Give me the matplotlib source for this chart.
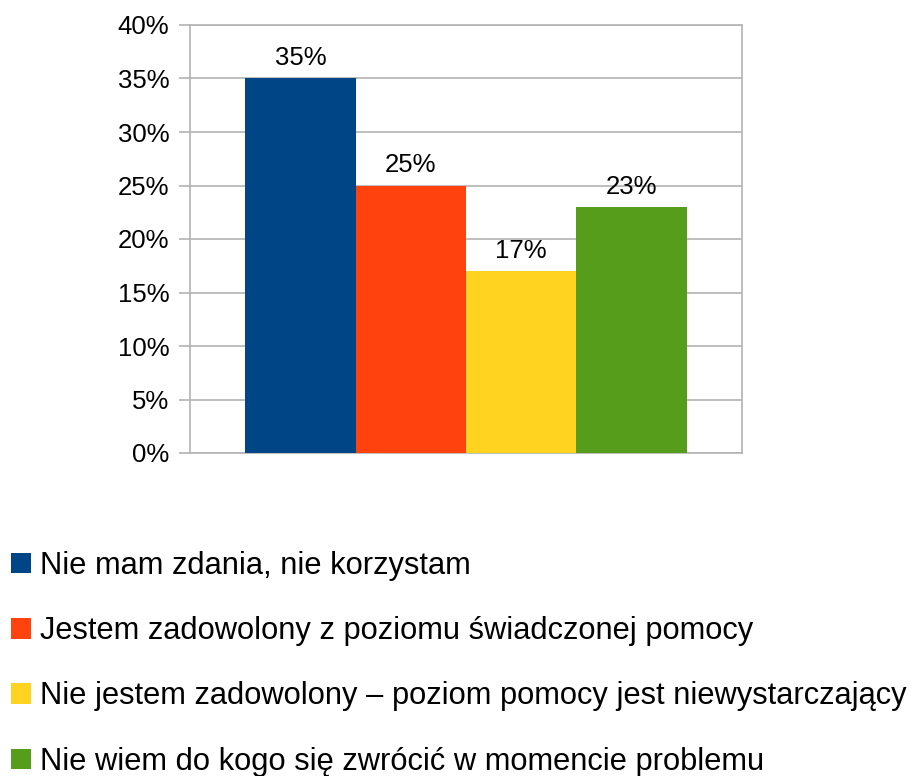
import matplotlib.pyplot as plt
from matplotlib.patches import Patch

plt.rcParams['font.family'] = ['Liberation Sans', 'DejaVu Sans']

# dane
kategorie = [
    "Nie mam zdania, nie korzystam",
    "Jestem zadowolony z poziomu świadczonej pomocy",
    "Nie jestem zadowolony – poziom pomocy jest niewystarczający",
    "Nie wiem do kogo się zwrócić w momencie problemu",
]
wartosci = [35, 25, 17, 23]
kolory = ["#004586", "#ff420e", "#ffd320", "#579d1c"]
y_ticks = [0, 5, 10, 15, 20, 25, 30, 35, 40]

fig = plt.figure(figsize=(9.11, 7.76), dpi=100)
ax = fig.add_axes([190 / 911, 1 - 453 / 776, 552 / 911, 428 / 776])

pozycje = list(range(len(wartosci)))
slupki = ax.bar(pozycje, wartosci, width=1.0, color=kolory, zorder=3)

for x, v in zip(pozycje, wartosci):
    ax.annotate(f"{v}%", (x, v), xytext=(0, 6), textcoords='offset points',
                ha='center', va='bottom', fontsize=18.5)

ax.set_xlim(-1, 4)
ax.set_ylim(0, 40)
ax.set_yticks(y_ticks)
ax.set_yticklabels([f"{t}%" for t in y_ticks], fontsize=18.5)
ax.set_xticks([])
ax.yaxis.grid(True, color='#b3b3b3', linewidth=1.2, zorder=0)
ax.tick_params(axis='y', length=8, color='#b3b3b3', width=1.2, pad=7)
for s in ax.spines.values():
    s.set_color('#b3b3b3')
    s.set_linewidth(1.2)

uchwyty = [Patch(facecolor=k, edgecolor='none') for k in kolory]
fig.legend(uchwyty, kategorie, loc='upper left',
           bbox_to_anchor=(0.0, 1 - 540 / 776), frameon=False,
           fontsize=22.2, handlelength=0.65, handleheight=0.65,
           handletextpad=0.29, labelspacing=1.145, borderaxespad=0,
           borderpad=0.35)

fig.savefig("out.png", dpi=100)
